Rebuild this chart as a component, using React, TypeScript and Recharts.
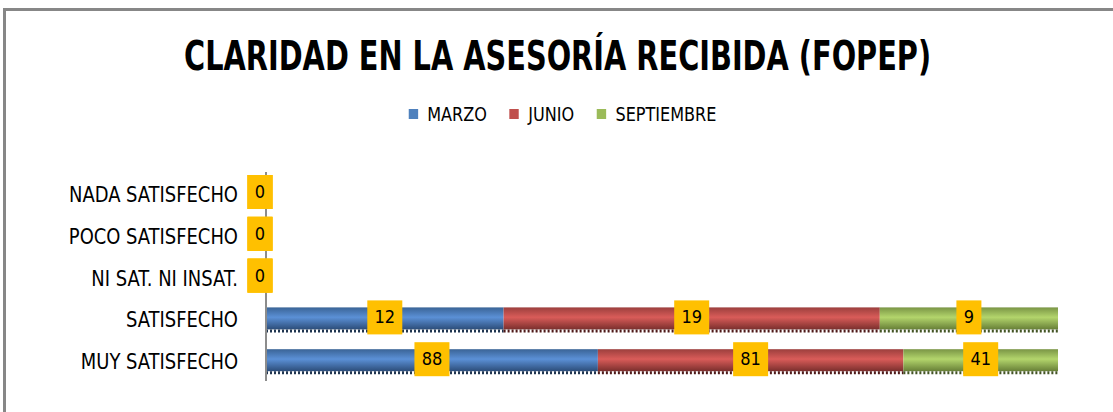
import React from 'react'
import { BarChart, Bar, XAxis, YAxis, LabelList } from 'recharts'

const categorias = ['NADA SATISFECHO', 'POCO SATISFECHO', 'NI SAT. NI INSAT.', 'SATISFECHO', 'MUY SATISFECHO']
const marzo = [0, 0, 0, 12, 88]
const junio = [0, 0, 0, 19, 81]
const septiembre = [0, 0, 0, 9, 41]

const series = [
  { key: 'marzo', name: 'MARZO', color: '#4f81bd', top: '#3a6496', mid: '#5b90d6', bot: '#2c4d79', edge: '#1f3550' },
  { key: 'junio', name: 'JUNIO', color: '#c0504d', top: '#9c3f3d', mid: '#d95c59', bot: '#7a2f2d', edge: '#4f1a19' },
  { key: 'septiembre', name: 'SEPTIEMBRE', color: '#9bbb59', top: '#7a9545', mid: '#b3d56c', bot: '#677f37', edge: '#435424' },
]

const data = categorias.map((c, i) => ({
  name: c,
  marzo: marzo[i],
  junio: junio[i],
  septiembre: septiembre[i],
}))

const FONT = '"DejaVu Sans Condensed", "DejaVu Sans", Arial, sans-serif'

const makeShape = (s: typeof series[number]) => (props: any) => {
  const { x, y, width, height } = props
  if (!width || width <= 0) return <g />
  return (
    <g>
      <rect x={x} y={y} width={width} height={height} fill={`url(#grad-${s.key})`} />
      <line
        x1={x}
        x2={x + width}
        y1={y + height + 1.5}
        y2={y + height + 1.5}
        stroke={s.edge}
        strokeWidth={3}
        strokeDasharray="2 2"
      />
    </g>
  )
}

const BoxLabel = (props: any) => {
  const { x, y, width, height, value } = props
  const txt = String(value)
  const w = txt.length > 1 ? 35 : 25
  const h = 34
  let cx = x + width / 2
  if (value === 0) cx = x - 6
  const cy = y + height / 2 - 1
  return (
    <g>
      <rect x={cx - w / 2} y={cy - h / 2} width={w} height={h} fill="#ffc000" />
      <text x={cx} y={cy + 6} textAnchor="middle" fontFamily={FONT} fontSize={18} fill="#000">
        {txt}
      </text>
    </g>
  )
}

const YTick = (props: any) => {
  const { x, y, payload } = props
  return (
    <text
      transform={`translate(${x},${y + 9}) scale(0.95,1)`}
      textAnchor="end"
      fontFamily={FONT}
      fontSize={21}
      fill="#000"
    >
      {payload.value}
    </text>
  )
}

export default function App() {
  return (
    <div style={{ position: 'absolute', left: 0, top: 0, width: 1113, height: 412, background: '#fff', overflow: 'hidden' }}>
      <div style={{ position: 'absolute', left: 3, top: 8, width: 1110, height: 404, borderTop: '3px solid #878787', borderLeft: '3px solid #878787' }} />
      <div
        style={{
          position: 'absolute',
          left: 0,
          top: 33,
          width: 1113,
          textAlign: 'center',
          fontFamily: FONT,
          fontWeight: 'bold',
          fontSize: 40,
          lineHeight: '46px',
          color: '#000',
          transform: 'scaleX(0.8)',
          transformOrigin: '562px 0',
        }}
      >
        CLARIDAD EN LA ASESORÍA RECIBIDA (FOPEP)
      </div>
      <div
        style={{
          position: 'absolute',
          left: 17,
          top: 102,
          width: 1113,
          display: 'flex',
          justifyContent: 'center',
          fontFamily: FONT,
          fontSize: 19,
          color: '#000',
          transform: 'scaleX(0.94)',
          transformOrigin: '560px 0',
        }}
      >
        {series.map((s) => (
          <div key={s.key} style={{ display: 'flex', alignItems: 'center', marginRight: 24 }}>
            <span style={{ width: 10, height: 10, background: s.color, display: 'inline-block', marginRight: 10 }} />
            <span style={{ lineHeight: '24px' }}>{s.name}</span>
          </div>
        ))}
      </div>
      <div style={{ position: 'absolute', left: 0, top: 0 }}>
        <BarChart
          width={1113}
          height={412}
          data={data}
          layout="vertical"
          stackOffset="expand"
          barSize={22}
          margin={{ top: 172, right: 55, bottom: 31, left: 0 }}
        >
          <defs>
            {series.map((s) => (
              <linearGradient key={s.key} id={`grad-${s.key}`} x1="0" y1="0" x2="0" y2="1">
                <stop offset="0%" stopColor={s.top} />
                <stop offset="45%" stopColor={s.mid} />
                <stop offset="100%" stopColor={s.bot} />
              </linearGradient>
            ))}
          </defs>
          <XAxis type="number" hide domain={[0, 1]} />
          <YAxis
            type="category"
            dataKey="name"
            width={266}
            axisLine={{ stroke: '#8c8c8c', strokeWidth: 2 }}
            tickLine={false}
            tickSize={0}
            tickMargin={28}
            tick={<YTick />}
          />
          {series.map((s) => (
            <Bar key={s.key} dataKey={s.key} name={s.name} stackId="a" fill={s.color} shape={makeShape(s)} isAnimationActive={false}>
              <LabelList dataKey={s.key} content={<BoxLabel />} />
            </Bar>
          ))}
        </BarChart>
      </div>
    </div>
  )
}
